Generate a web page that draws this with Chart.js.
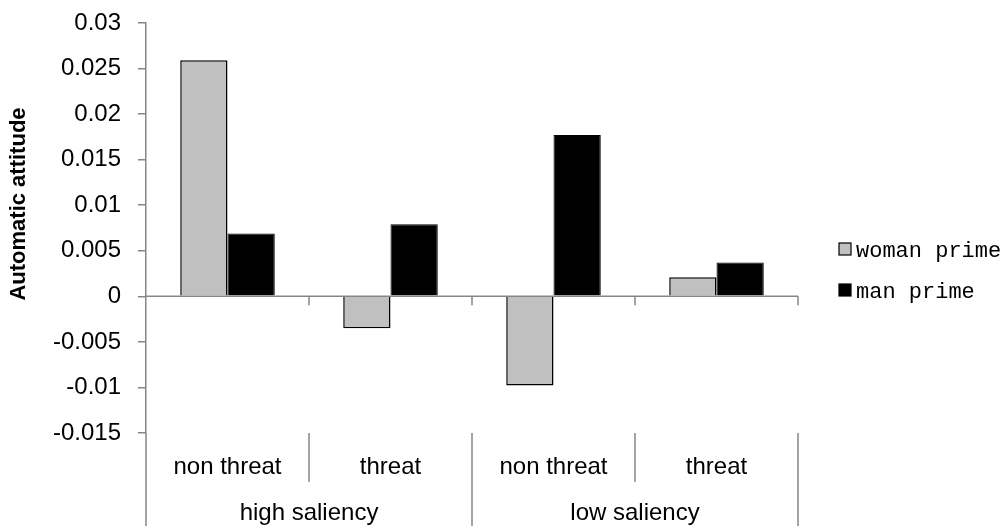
<!DOCTYPE html>
<html>
<head>
<meta charset="utf-8">
<script src="https://cdn.jsdelivr.net/npm/chart.js@4/dist/chart.umd.min.js"></script>
<style>
  html, body { margin: 0; padding: 0; background: #fff; }
  canvas { display: block; }
</style>
</head>
<body>
<canvas id="chart" width="1004" height="526"></canvas>
<script>
// data
const conditions = ['non threat', 'threat', 'non threat', 'threat'];
const groups     = ['high saliency', 'low saliency'];
const womanPrime = [0.0259, -0.0035, -0.0098, 0.0021];
const manPrime   = [0.0069, 0.0079, 0.0177, 0.0037];
const yTicks     = [-0.015, -0.01, -0.005, 0, 0.005, 0.01, 0.015, 0.02, 0.025, 0.03];
const yTitle     = 'Automatic attitude';

const AXIS = '#868686';
const LABEL_FONT = '24px "Liberation Sans", Arial, sans-serif';

// zero line, category ticks, group separators, labels, axis title, legend
const overlay = {
  id: 'overlay',
  afterDatasetsDraw(chart) {
    const { ctx, chartArea: a, scales: { x, y } } = chart;
    const y0 = y.getPixelForValue(0);
    const n = conditions.length;
    const edges = [a.left];
    for (let i = 1; i < n; i++) edges.push((x.getPixelForValue(i - 1) + x.getPixelForValue(i)) / 2);
    edges.push(a.right);

    ctx.save();
    ctx.strokeStyle = AXIS;
    ctx.lineWidth = 1.5;
    ctx.beginPath();
    ctx.moveTo(a.left, y0);
    ctx.lineTo(a.right, y0);
    edges.slice(1).forEach(ex => { ctx.moveTo(ex, y0); ctx.lineTo(ex, y0 + 9); });
    // y axis carried down through the label block
    ctx.moveTo(a.left, a.bottom);
    ctx.lineTo(a.left, chart.height);
    edges.forEach((ex, i) => {
      if (i === 0) return;
      const long = i % 2 === 0;
      ctx.moveTo(ex, a.bottom);
      ctx.lineTo(ex, long ? chart.height : a.bottom + 49);
    });
    ctx.stroke();

    ctx.fillStyle = '#000';
    ctx.font = LABEL_FONT;
    ctx.textAlign = 'center';
    ctx.textBaseline = 'alphabetic';
    conditions.forEach((c, i) => ctx.fillText(c, x.getPixelForValue(i), a.bottom + 41));
    groups.forEach((g, i) => ctx.fillText(g, (edges[i * 2] + edges[i * 2 + 2]) / 2, a.bottom + 87));

    ctx.save();
    ctx.translate(19, 204);
    ctx.rotate(-Math.PI / 2);
    ctx.font = 'bold 22px "Liberation Sans", Arial, sans-serif';
    ctx.textBaseline = 'middle';
    ctx.fillText(yTitle, 0, 0);
    ctx.restore();

    // legend
    ctx.font = '22px "Liberation Mono", "Courier New", monospace';
    ctx.textAlign = 'left';
    chart.data.datasets.forEach((ds, i) => {
      const base = 257 + i * 41;
      ctx.fillStyle = ds.backgroundColor;
      ctx.fillRect(839, base - 14, 12, 12);
      ctx.strokeStyle = '#000';
      ctx.lineWidth = 1.2;
      ctx.strokeRect(839, base - 14, 12, 12);
      ctx.fillStyle = '#000';
      ctx.fillText(ds.label, 856, base);
    });
    ctx.restore();
  }
};

new Chart(document.getElementById('chart'), {
  type: 'bar',
  data: {
    labels: conditions.map((c, i) => groups[Math.floor(i / 2)] + ' / ' + c),
    datasets: [
      { label: 'woman prime', data: womanPrime, backgroundColor: '#C0C0C0', borderColor: '#000', borderWidth: 1.5 },
      { label: 'man prime',   data: manPrime,   backgroundColor: '#000000', borderColor: '#000', borderWidth: 1 }
    ]
  },
  options: {
    responsive: false,
    devicePixelRatio: 1,
    animation: false,
    layout: { padding: { top: 23, right: 206, bottom: 93, left: 0 } },
    datasets: { bar: { categoryPercentage: 0.58, barPercentage: 1 } },
    plugins: { legend: { display: false }, tooltip: { enabled: false } },
    scales: {
      x: { display: false },
      y: {
        min: yTicks[0],
        max: yTicks[yTicks.length - 1],
        afterFit: s => { s.width = 146; s.paddingTop = 0; s.paddingBottom = 0; },
        afterBuildTicks: s => { s.ticks = yTicks.map(v => ({ value: v })); },
        border: { display: true, color: AXIS, width: 1.5 },
        grid: { drawOnChartArea: false, drawTicks: true, tickLength: 8, color: AXIS, lineWidth: 1.5 },
        ticks: {
          padding: 17,
          color: '#000',
          font: { family: '"Liberation Sans", Arial, sans-serif', size: 24 },
          callback: v => String(+v.toFixed(3))
        }
      }
    }
  },
  plugins: [overlay]
});
</script>
</body>
</html>
